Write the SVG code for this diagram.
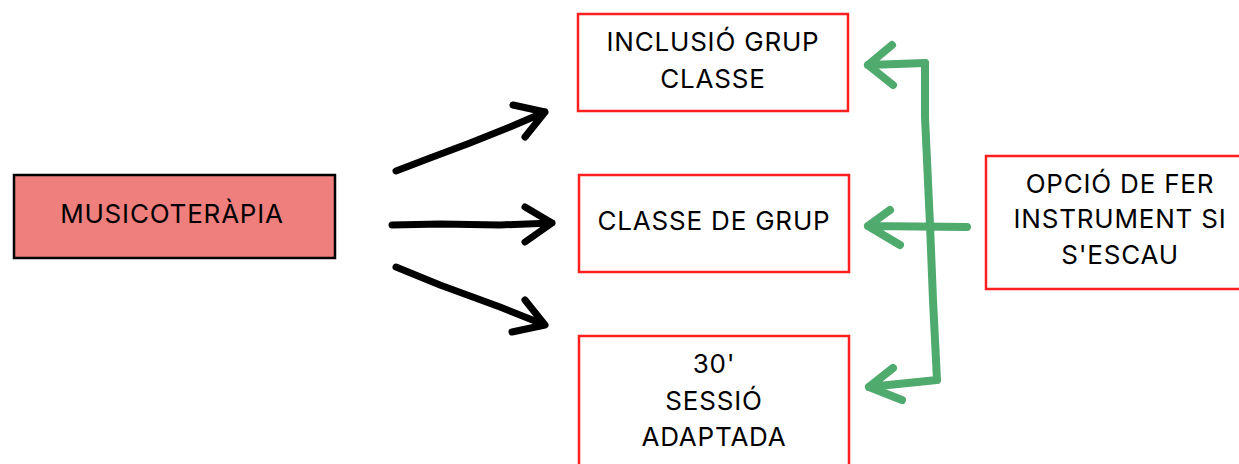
<svg xmlns="http://www.w3.org/2000/svg" width="1239" height="464" viewBox="0 0 1239 464">
<style>
.box{fill:#ffffff;stroke:#ff1f1f;stroke-width:2.5}
.main{fill:#ee7f7d;stroke:#000000;stroke-width:2.5}
.t{font-family:Inter,"Noto Sans",sans-serif;font-size:26px;fill:#000000;text-anchor:middle;letter-spacing:0.8px}
.blk{fill:none;stroke:#000000;stroke-width:7;stroke-linecap:round;stroke-linejoin:round}
.grn{fill:none;stroke:#4faa6d;stroke-width:8;stroke-linecap:round;stroke-linejoin:round}
</style>
<rect width="1239" height="464" fill="#ffffff"/>
<g id="musicoterapia">
<rect class="main" x="14" y="175" width="321" height="83"/>
<text class="t" x="172" y="223">MUSICOTERÀPIA</text>
</g>
<g id="inclusio">
<rect class="box" x="578" y="14" width="270" height="97"/>
<text class="t" x="713" y="51">INCLUSIÓ GRUP</text>
<text class="t" x="713" y="88">CLASSE</text>
</g>
<g id="classe">
<rect class="box" x="579" y="175" width="270" height="97"/>
<text class="t" x="714" y="230">CLASSE DE GRUP</text>
</g>
<g id="sessio">
<rect class="box" x="579" y="336" width="270" height="140"/>
<text class="t" x="714" y="373">30'</text>
<text class="t" x="714" y="410">SESSIÓ</text>
<text class="t" x="714" y="446">ADAPTADA</text>
</g>
<g id="opcio">
<rect class="box" x="986" y="156" width="270" height="133"/>
<text class="t" x="1120" y="193">OPCIÓ DE FER</text>
<text class="t" x="1120" y="228">INSTRUMENT SI</text>
<text class="t" x="1120" y="264">S'ESCAU</text>
</g>
<g id="connectors">
<path class="blk" d="M396 171 L430 158 L470 143 L510 127 L545 112 M513 105 L545 112 L525 137"/>
<path class="blk" d="M392 225 L440 224 L500 225 L552 223 M525 207 L552 223 L525 242"/>
<path class="blk" d="M396 267 L440 285 L500 307 L545 325 M525 300 L545 325 L512 332"/>
<path class="grn" d="M925 63 L868 65 M892 45 L868 65 L893 85"/>
<path class="grn" d="M925 63 L925 117 L930 225 L933 300 L937 380 L869 387 M893 368 L869 387 L902 400"/>
<path class="grn" d="M967 227 L868 226 M890 210 L868 226 L900 245"/>
</g>
</svg>
